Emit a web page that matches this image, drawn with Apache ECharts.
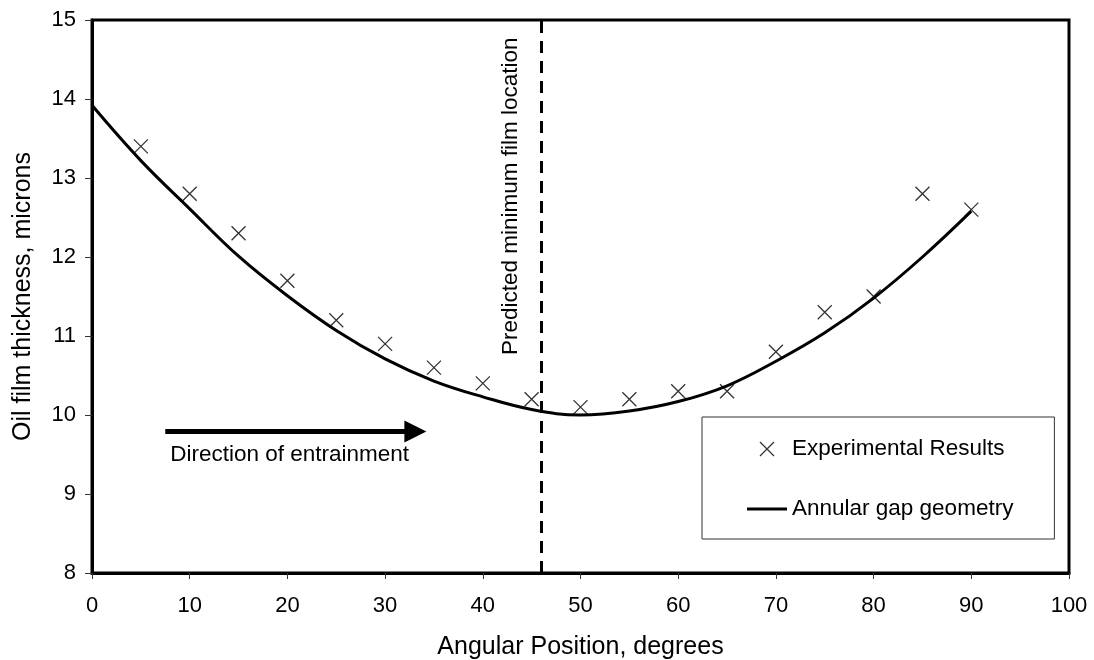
<!DOCTYPE html>
<html>
<head>
<meta charset="utf-8">
<script src="https://cdn.jsdelivr.net/npm/echarts@6/dist/echarts.min.js"></script>
<style>
html,body{margin:0;padding:0;background:#fff;}
#chart{width:1094px;height:660px;}
</style>
</head>
<body>
<div id="chart"></div>
<script>
// ---- data ----
var expAngles = [5, 10, 15, 20, 25, 30, 35, 40, 45, 50, 55, 60, 65, 70, 75, 80, 85, 90];
var expThickness = [13.4, 12.8, 12.3, 11.7, 11.2, 10.9, 10.6, 10.4, 10.2, 10.1, 10.2, 10.3, 10.3, 10.8, 11.3, 11.5, 12.8, 12.6];
var curveAngles = [0, 5, 10, 15, 20, 25, 30, 35, 40, 45, 50, 55, 60, 65, 70, 75, 80, 85, 90];
var curveThickness = [13.92, 13.22, 12.61, 12.01, 11.51, 11.07, 10.71, 10.43, 10.23, 10.07, 10.0, 10.05, 10.17, 10.37, 10.68, 11.04, 11.48, 12.0, 12.58];
var xTicks = [0, 10, 20, 30, 40, 50, 60, 70, 80, 90, 100];
var yTicks = [8, 9, 10, 11, 12, 13, 14, 15];
var minFilmAngle = [46];
var arrowFrom = [7.5, 9.79];
var arrowTo = [33.1, 9.79];
var arrowLabelAt = [8.0, 9.5];
var minLabelAt = [42.9, 12.77];
var seriesNames = ['Experimental Results', 'Annular gap geometry'];
var texts = {
  xTitle: 'Angular Position, degrees',
  yTitle: 'Oil film thickness, microns',
  arrow: 'Direction of entrainment',
  minLine: 'Predicted minimum film location'
};

var FONT = '"Liberation Sans", Arial, sans-serif';
var crossPath = 'path://M0,0 L10,10 M10,0 L0,10';
var lineIcon = 'path://M0,0 L40,0 L40,3 L0,3 Z';

var chart = echarts.init(document.getElementById('chart'), null, {renderer: 'canvas'});

var option = {
  animation: false,
  backgroundColor: '#fff',
  textStyle: {fontFamily: FONT, color: '#000'},
  grid: {
    left: 92, right: 25, top: 20, bottom: 87,
    containLabel: false,
    outerBoundsMode: 'none',
    show: true, borderColor: '#000', borderWidth: 3, backgroundColor: 'transparent'
  },
  legend: {
    orient: 'vertical',
    left: 702, top: 417,
    padding: [20, 41, 18, 45],
    itemGap: 36,
    itemWidth: 40,
    itemHeight: 14,
    borderColor: '#333', borderWidth: 1,
    backgroundColor: '#fff',
    textStyle: {fontFamily: FONT, fontSize: 22.5, color: '#000', lineHeight: 24},
    data: [
      {name: seriesNames[0], icon: crossPath, itemStyle: {color: 'none', borderColor: '#000', borderWidth: 1.3}},
      {name: seriesNames[1], icon: lineIcon, itemStyle: {color: '#000', borderWidth: 0}}
    ]
  },
  xAxis: {
    type: 'value', min: xTicks[0], max: xTicks[xTicks.length - 1], interval: xTicks[1] - xTicks[0],
    name: texts.xTitle, nameLocation: 'middle', nameGap: 62,
    nameTextStyle: {fontFamily: FONT, fontSize: 25, color: '#000'},
    axisLine: {show: true, lineStyle: {color: '#000', width: 3}},
    axisTick: {show: true, inside: false, length: 6, lineStyle: {color: '#333', width: 1}},
    axisLabel: {fontFamily: FONT, fontSize: 22, color: '#000', margin: 22},
    splitLine: {show: false}
  },
  yAxis: {
    type: 'value', min: yTicks[0], max: yTicks[yTicks.length - 1], interval: yTicks[1] - yTicks[0],
    name: texts.yTitle, nameLocation: 'middle', nameGap: 56, nameRotate: 90,
    nameTextStyle: {fontFamily: FONT, fontSize: 25, color: '#000'},
    axisLine: {show: true, lineStyle: {color: '#000', width: 3}},
    axisTick: {show: true, inside: false, length: 7, lineStyle: {color: '#333', width: 1}},
    axisLabel: {fontFamily: FONT, fontSize: 22, color: '#000', margin: 16},
    splitLine: {show: false}
  },
  series: [
    {
      name: seriesNames[0],
      type: 'scatter',
      symbol: crossPath,
      symbolSize: 14,
      itemStyle: {color: 'none', borderColor: '#000', borderWidth: 1.3},
      data: expAngles.map(function (a, i) { return [a, expThickness[i]]; }),
      z: 5
    },
    {
      name: seriesNames[1],
      type: 'line',
      smooth: 0.4,
      symbol: 'none',
      lineStyle: {color: '#000', width: 3},
      itemStyle: {color: '#000'},
      data: curveAngles.map(function (a, i) { return [a, curveThickness[i]]; }),
      z: 4,
      markLine: {
        silent: true,
        animation: false,
        label: {show: false},
        data: [
          [{xAxis: minFilmAngle[0], yAxis: yTicks[0], symbol: 'none', lineStyle: {color: '#000', width: 3, type: [12, 8]}},
           {xAxis: minFilmAngle[0], yAxis: yTicks[yTicks.length - 1], symbol: 'none'}],
          [{coord: arrowFrom, symbol: 'none', lineStyle: {color: '#000', width: 5, type: 'solid'}},
           {coord: arrowTo, symbol: 'triangle', symbolSize: [22, 22]}]
        ]
      },
      markPoint: {
        silent: true,
        animation: false,
        symbol: 'circle',
        symbolSize: 0,
        data: [
          {coord: arrowLabelAt, label: {show: true, position: 'right', distance: 0, formatter: texts.arrow,
            fontFamily: FONT, fontSize: 22.5, color: '#000'}},
          {coord: minLabelAt, label: {show: true, position: 'inside', rotate: 90, formatter: texts.minLine,
            fontFamily: FONT, fontSize: 22.5, color: '#000', align: 'center', verticalAlign: 'middle'}}
        ]
      }
    }
  ]
};
chart.setOption(option);
</script>
</body>
</html>
